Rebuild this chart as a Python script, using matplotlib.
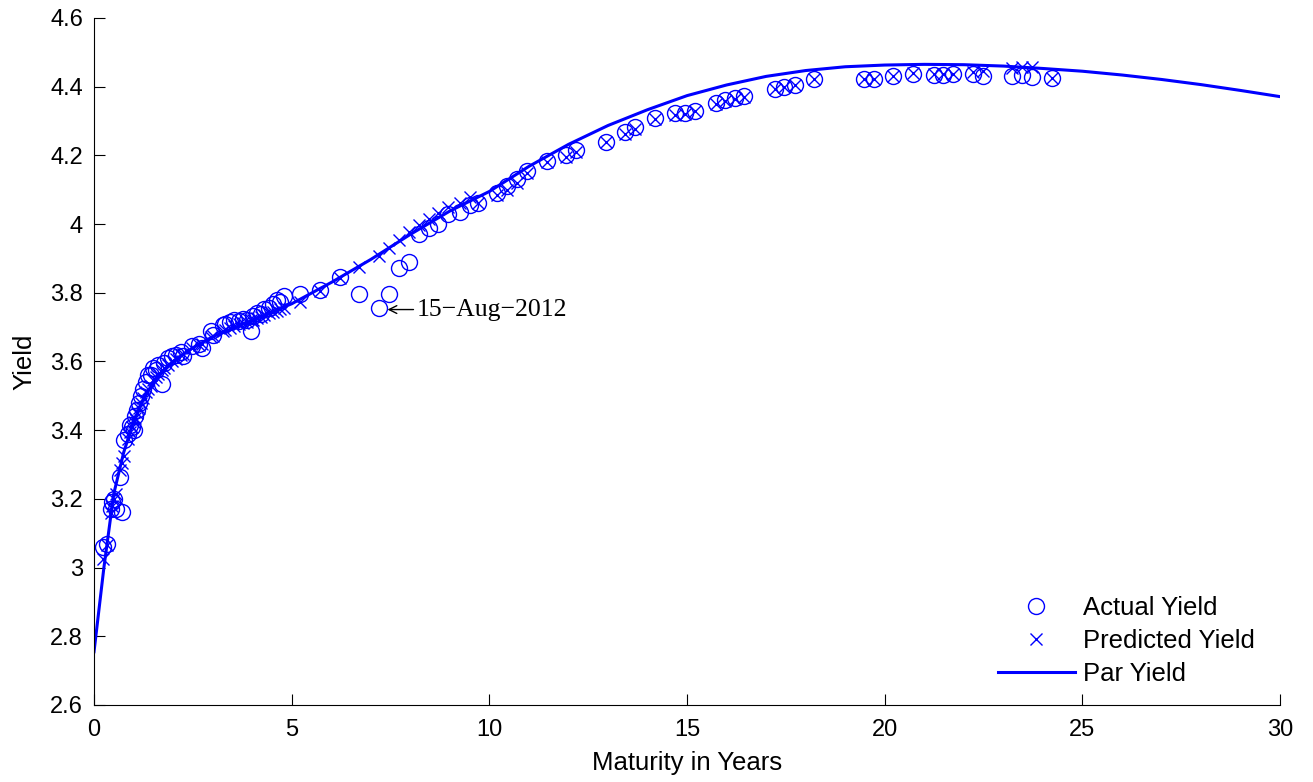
import numpy as np
import matplotlib.pyplot as plt
from matplotlib.ticker import FuncFormatter
from matplotlib.transforms import offset_copy

# bond maturities (years), observed and model yields
maturity = [0.22, 0.33, 0.42, 0.46, 0.50, 0.55, 0.65, 0.71, 0.76, 0.85,
            0.90, 0.95, 1.00, 1.03, 1.08, 1.13, 1.19, 1.25, 1.31, 1.36,
            1.43, 1.50, 1.56, 1.63, 1.71, 1.76, 1.86, 1.96, 2.07, 2.20,
            2.26, 2.48, 2.65, 2.72, 2.95, 3.02, 3.25, 3.32, 3.45, 3.55,
            3.66, 3.76, 3.86, 3.97, 4.03, 4.12, 4.22, 4.31, 4.42, 4.52,
            4.62, 4.70, 4.80, 5.22, 5.72, 6.22, 6.70, 7.22, 7.46, 7.72,
            7.96, 8.22, 8.46, 8.71, 8.96, 9.26, 9.51, 9.71, 10.20, 10.45,
            10.70, 10.95, 11.45, 11.95, 12.18, 12.95, 13.43, 13.68, 14.18, 14.70,
            14.95, 15.20, 15.72, 15.95, 16.20, 16.45, 17.22, 17.46, 17.72, 18.22,
            19.48, 19.72, 20.22, 20.72, 21.24, 21.48, 21.73, 22.22, 22.48, 23.22,
            23.48, 23.73, 24.22]
actual = [3.060, 3.070, 3.170, 3.190, 3.200, 3.170, 3.265, 3.163, 3.372, 3.390,
          3.415, 3.410, 3.400, 3.440, 3.460, 3.480, 3.500, 3.520, 3.540, 3.560,
          3.560, 3.580, 3.575, 3.590, 3.535, 3.595, 3.610, 3.615, 3.620, 3.628,
          3.615, 3.645, 3.652, 3.640, 3.688, 3.678, 3.705, 3.710, 3.715, 3.722,
          3.718, 3.725, 3.722, 3.690, 3.732, 3.742, 3.738, 3.752, 3.757, 3.767,
          3.780, 3.772, 3.792, 3.797, 3.808, 3.845, 3.797, 3.757, 3.797, 3.872,
          3.890, 3.970, 3.990, 4.000, 4.030, 4.035, 4.056, 4.061, 4.090, 4.110,
          4.130, 4.155, 4.185, 4.200, 4.215, 4.240, 4.268, 4.284, 4.308, 4.322,
          4.322, 4.330, 4.352, 4.360, 4.366, 4.372, 4.393, 4.398, 4.406, 4.421,
          4.423, 4.422, 4.430, 4.438, 4.433, 4.433, 4.436, 4.438, 4.431, 4.432,
          4.434, 4.429, 4.426]
predicted = [3.025, 3.065, 3.160, 3.180, 3.200, 3.215, 3.285, 3.305, 3.325, 3.375,
             3.395, 3.410, 3.425, 3.435, 3.450, 3.465, 3.480, 3.495, 3.510, 3.520,
             3.530, 3.545, 3.555, 3.565, 3.575, 3.580, 3.590, 3.600, 3.608, 3.618,
             3.622, 3.638, 3.648, 3.652, 3.670, 3.675, 3.688, 3.692, 3.698, 3.703,
             3.708, 3.713, 3.716, 3.720, 3.722, 3.726, 3.730, 3.735, 3.740, 3.745,
             3.748, 3.752, 3.756, 3.772, 3.805, 3.842, 3.875, 3.907, 3.930, 3.955,
             3.977, 3.997, 4.015, 4.032, 4.050, 4.060, 4.079, 4.062, 4.085, 4.100,
             4.120, 4.150, 4.182, 4.195, 4.210, 4.240, 4.262, 4.278, 4.305, 4.318,
             4.320, 4.328, 4.350, 4.358, 4.364, 4.370, 4.392, 4.398, 4.404, 4.421,
             4.423, 4.422, 4.431, 4.439, 4.436, 4.436, 4.437, 4.444, 4.446, 4.455,
             4.456, 4.456, 4.426]

# par yield curve
par_maturity = [0.0, 0.25, 0.5, 0.75, 1.0, 1.25, 1.5, 2.0, 2.5, 3.0,
                4.0, 5.0, 6.0, 7.0, 8.0, 9.0, 10.0, 11.0, 12.0, 13.0,
                14.0, 15.0, 16.0, 17.0, 18.0, 19.0, 20.0, 21.0, 22.0, 23.0,
                24.0, 25.0, 26.0, 27.0, 28.0, 29.0, 30.0]
par_yield = [2.755, 3.000, 3.215, 3.335, 3.425, 3.490, 3.540, 3.600, 3.640, 3.672,
             3.720, 3.768, 3.830, 3.897, 3.970, 4.038, 4.095, 4.168, 4.232, 4.287,
             4.333, 4.374, 4.405, 4.430, 4.447, 4.458, 4.463, 4.465, 4.464, 4.460,
             4.453, 4.445, 4.434, 4.421, 4.406, 4.389, 4.371]

note_maturity = 7.22
note_yield = 3.757
note_label = '15\u2212Aug\u22122012'

plt.rcParams['font.family'] = ['Liberation Sans', 'DejaVu Sans']

fig = plt.figure(figsize=(13.13, 7.82), dpi=100)
ax = fig.add_axes([0.0716, 0.0985, 0.9034, 0.8785])

blue = (0, 0, 1)
ax.plot(maturity, actual, 'o', mfc='none', mec=blue, ms=11.5, mew=1.0,
        label='Actual Yield')
ax.plot(maturity, predicted, 'x', color=blue, ms=8, mew=1.0,
        label='Predicted Yield')
ax.plot(par_maturity, par_yield, '-', color=blue, lw=2.2, label='Par Yield')

# arrow and date label next to the flagged bond
tip = offset_copy(ax.transData, fig=fig, x=8, y=-2, units='dots')
tail = offset_copy(ax.transData, fig=fig, x=34, y=-2, units='dots')
ax.annotate('', xy=(note_maturity, note_yield), xycoords=tip,
            xytext=(note_maturity, note_yield), textcoords=tail,
            arrowprops=dict(arrowstyle='->', color='black', lw=1.0,
                            mutation_scale=14, shrinkA=0, shrinkB=0))
ax.annotate(note_label, xy=(note_maturity, note_yield),
            xytext=(37, -2), textcoords='offset pixels', ha='left', va='center',
            fontsize=18.5, family=['Liberation Serif', 'DejaVu Serif'])

ax.set_xlim(0, 30)
ax.set_ylim(2.6, 4.6)
ax.set_xticks(np.arange(0, 31, 5))
ax.set_yticks(np.arange(2.6, 4.61, 0.2))
ax.yaxis.set_major_formatter(FuncFormatter(lambda v, p: '{:g}'.format(round(v, 2))))
ax.tick_params(direction='in', length=8, width=0.8, labelsize=17)
ax.tick_params(axis='x', pad=10)
ax.tick_params(axis='y', pad=8)
for side in ['top', 'right']:
    ax.spines[side].set_visible(False)
for side in ['left', 'bottom']:
    ax.spines[side].set_linewidth(0.8)

ax.set_xlabel('Maturity in Years', fontsize=18.5, labelpad=7)
ax.set_ylabel('Yield', fontsize=18.5, labelpad=10)

ax.legend(loc='lower left', bbox_to_anchor=(0.762, 0.027), frameon=False,
          fontsize=18.5, numpoints=1, handlelength=3.0, handletextpad=0.3,
          labelspacing=0.36, borderpad=0, borderaxespad=0)

fig.savefig('out.png', dpi=100)
